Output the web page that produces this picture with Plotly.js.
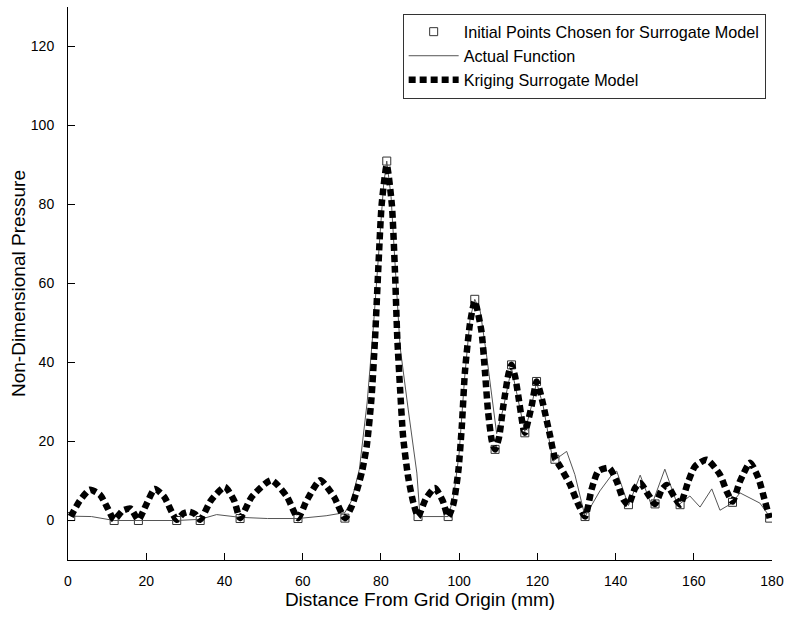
<!DOCTYPE html>
<html>
<head>
<meta charset="utf-8">
<script src="https://cdn.plot.ly/plotly-3.0.1.min.js"></script>
<style>
  html, body { margin: 0; padding: 0; background: #fff; }
  #chart { width: 786px; height: 617px; }
</style>
</head>
<body>
<div id="chart"></div>
<script>
// Sample locations used to build the surrogate (mm, pressure)
const sampleX = [0.7, 11.8, 18, 27.8, 33.8, 44, 58.8, 70.8, 81.5, 89.5, 97.2, 104, 109.2, 113.4, 116.8, 119.8, 124.5, 132.2, 143.3, 150.1, 156.5, 169.9, 179.4];
const sampleY = [1, 0, 0, 0, 0, 0.5, 0.5, 0.6, 91, 1, 1, 56, 18, 39.4, 22.2, 35.2, 15.5, 1, 4, 4.2, 4, 4.6, 0.6];

// Actual pressure distribution along the grid
const actualX = [0.7, 6, 11.8, 18, 27.8, 33.8, 38, 44, 51, 58.8, 66, 70.8, 72.5, 74.5, 76.5, 78, 79.5, 80.7, 81.5, 82.6, 83.8, 84.9, 87, 89.2, 90, 97.2, 98.6, 100, 101.4, 102.8, 104, 105.4, 107, 108.5, 109.6, 111.2, 113.4, 115, 116.8, 118.5, 119.8, 121.5, 124, 127.5, 129.6, 132.2, 134, 136, 139, 140.3, 143.3, 146.3, 149.2, 152.6, 155.9, 159, 161.6, 164.6, 166.7, 169.8, 171.8, 176.9, 179.4];
const actualY = [1.1, 1, 0, 0, 0, 0.3, 1.5, 0.8, 0.5, 0.5, 1.2, 2, 5, 13, 30, 48, 70, 85, 91, 82, 62, 44, 28, 12, 1, 1, 6, 17, 36, 51, 56, 53, 42, 30, 22, 28, 38.5, 31, 22.5, 29, 35, 29, 15, 17.5, 11.6, 1, 4, 7.5, 11.5, 12.5, 3.8, 11.5, 3.8, 13, 3.8, 6.2, 3.4, 8, 2.6, 4.4, 7, 4.4, 1];

// Kriging surrogate prediction
const krigX = [0.7, 3, 5.6, 8.2, 10.2, 11.8, 14, 16, 18, 20, 22.2, 24.6, 26.6, 27.8, 29.5, 31, 32.5, 33.8, 36.5, 40.1, 42.5, 44, 47, 52, 56, 58.8, 61, 64.5, 68, 70.8, 72.5, 73.8, 75.2, 76.4, 77.6, 78.5, 79.3, 80.2, 81.5, 82.8, 83.6, 84.2, 84.9, 85.7, 87, 88.3, 89.5, 91.5, 93.8, 95.8, 97.2, 98.5, 99.8, 100.7, 101.5, 102.8, 104, 105.7, 106.6, 107.4, 108.4, 109.2, 110.2, 111.3, 112.6, 113.4, 114.3, 115.1, 116.4, 116.8, 117.6, 118.6, 119.8, 120.6, 121.5, 123.2, 124.5, 125.8, 128.4, 130.5, 132.2, 133.9, 135.6, 138.4, 140.3, 142, 143.3, 145, 146.3, 148.4, 150.1, 151.8, 153.1, 155.2, 156.5, 158.6, 160.3, 163.3, 166.7, 168.4, 169.9, 171.8, 174.4, 176.5, 178.2, 179.4];
const krigY = [1, 5, 7.8, 6.5, 3, 0.2, 2.5, 3, 0.2, 4, 8, 6, 2, 0.2, 1.8, 2.2, 1.6, 0.2, 5, 8.5, 5, 0.6, 6, 10.2, 6, 0.6, 5, 10.2, 6, 0.6, 3.5, 7.4, 12.5, 19, 31, 46, 63, 80, 90, 80, 63, 46, 33.5, 21, 10.8, 4.5, 1, 5.5, 8.2, 5, 1, 4, 12.5, 24, 37.8, 50, 55.5, 48, 37.8, 27.6, 20, 18, 21, 29, 37, 39.4, 36.5, 31.8, 23.4, 22.2, 25, 29.3, 35.2, 33, 29.3, 21.7, 15.8, 13.7, 9, 4, 1, 8, 12.5, 13.3, 9.9, 5.3, 4, 8.2, 9.5, 6.5, 4.2, 7.8, 9, 5.7, 4, 9.9, 13.7, 15.4, 11.6, 7.4, 4.8, 9.9, 14.6, 10.8, 4.9, 0.6];

const xTicks = [0, 20, 40, 60, 80, 100, 120, 140, 160, 180];
const yTicks = [0, 20, 40, 60, 80, 100, 120];

const FONT = 'Liberation Sans, Arial, Helvetica, sans-serif';

const traces = [
  {
    x: sampleX, y: sampleY,
    name: 'Initial Points Chosen for Surrogate Model',
    legendgroup: 'a',
    mode: 'markers', type: 'scatter',
    marker: { symbol: 'square-open', size: 8, color: '#333', line: { width: 1, color: '#333' } }
  },
  {
    x: actualX, y: actualY,
    name: 'Actual Function',
    legendgroup: 'b',
    mode: 'lines', type: 'scatter',
    line: { color: '#555', width: 1 }
  },
  {
    x: krigX, y: krigY,
    name: 'Kriging Surrogate Model',
    legendgroup: 'c',
    mode: 'lines', type: 'scatter',
    line: { color: '#000', width: 6.5, dash: '7px,4px', shape: 'spline', smoothing: 0.6 }
  }
];

const layout = {
  width: 786, height: 617,
  margin: { l: 68, r: 14, t: 7, b: 57 },
  paper_bgcolor: '#fff', plot_bgcolor: '#fff',
  font: { family: FONT, size: 14, color: '#000' },
  showlegend: true,
  legend: {
    x: 0.991, y: 0.988, xanchor: 'right', yanchor: 'top',
    bgcolor: '#fff', bordercolor: '#333', borderwidth: 1,
    font: { family: FONT, size: 16.2, color: '#000' },
    tracegroupgap: 0,
    itemwidth: 50
  },
  xaxis: {
    range: [0, 180], tickvals: xTicks, ticktext: xTicks.map(String),
    ticks: 'inside', ticklen: 7, tickcolor: '#000', tickwidth: 1,
    showline: true, linecolor: '#000', linewidth: 1, mirror: false,
    showgrid: false, zeroline: false,
    ticklabelstandoff: 8,
    tickfont: { family: FONT, size: 14, color: '#000' },
    title: { text: 'Distance From Grid Origin (mm)', standoff: 4, font: { family: FONT, size: 19, color: '#000' } }
  },
  yaxis: {
    range: [-10, 130], tickvals: yTicks, ticktext: yTicks.map(String),
    ticks: 'inside', ticklen: 7, tickcolor: '#000', tickwidth: 1,
    showline: true, linecolor: '#000', linewidth: 1, mirror: false,
    showgrid: false, zeroline: false,
    ticklabelstandoff: 10,
    tickfont: { family: FONT, size: 14, color: '#000' },
    title: { text: 'Non-Dimensional Pressure', standoff: 0, font: { family: FONT, size: 19, color: '#000' } }
  }
};

Plotly.newPlot('chart', traces, layout, { displayModeBar: false, staticPlot: true });
</script>
</body>
</html>
